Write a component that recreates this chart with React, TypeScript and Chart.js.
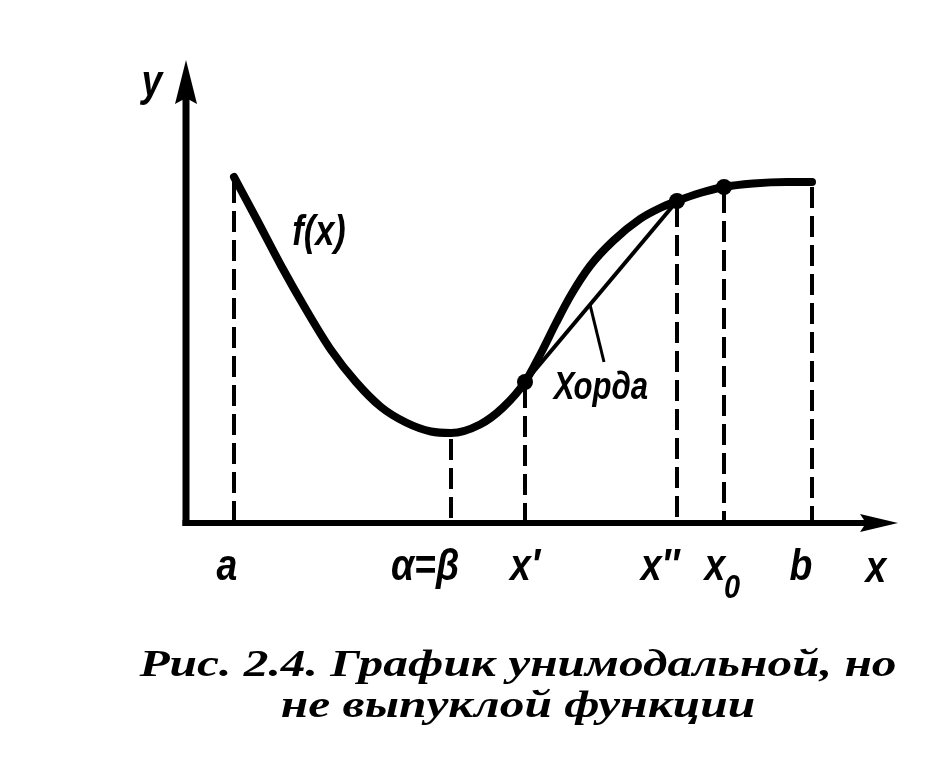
import React, { useEffect, useRef } from "react";
import { Chart, registerables } from "chart.js";

Chart.register(...registerables);

// Curve f(x) (abstract units)
const curveX = [0.96, 1.40, 1.90, 2.40, 2.90, 3.40, 3.90, 4.40, 4.90, 5.30, 5.88, 6.34, 6.78, 7.10, 7.40, 7.70, 8.08, 8.54, 9.08, 9.48, 9.82, 10.28, 10.76, 11.34, 12.02, 12.52];
const curveY = [6.92, 6.10, 5.15, 4.27, 3.46, 2.82, 2.32, 2.01, 1.83, 1.80, 1.97, 2.31, 2.82, 3.40, 4.00, 4.56, 5.14, 5.64, 6.08, 6.30, 6.44, 6.60, 6.72, 6.79, 6.82, 6.82];

// Marked abscissae: a, α=β, x', x'', x0, b
const guideX = [0.96, 5.30, 6.78, 9.82, 10.76, 12.52];
const tickLabels = ["a", "α=β", "x′", "x″", "x", "b"];
const tickSub = ["", "", "", "", "0", ""];

// Points shown as dots: x', x'', x0
const dotX = [6.78, 9.82, 10.76];
// Chord endpoints: x', x''
const chordX = [6.78, 9.82];

const axisMaxX = 14.24;
const axisMaxY = 9.26;

const captionLines = ["Рис. 2.4. График унимодальной, но", "не выпуклой функции"];

const yAt = (x: number) => curveY[curveX.indexOf(x)];

const LABEL_FONT = "'Liberation Sans', 'DejaVu Sans', sans-serif";

function drawLabel(ctx: CanvasRenderingContext2D, text: string, cx: number, base: number, size: number, sx: number) {
  ctx.save();
  ctx.font = `italic bold ${size}px ${LABEL_FONT}`;
  ctx.textAlign = "center";
  ctx.textBaseline = "alphabetic";
  ctx.translate(cx, base);
  ctx.scale(sx, 1);
  ctx.fillText(text, 0, 0);
  ctx.restore();
}

const axesPlugin = {
  id: "axesArrows",
  beforeDatasetsDraw(chart: any) {
    const { ctx, scales } = chart;
    const xs = scales.x, ys = scales.y;
    const ox = xs.getPixelForValue(0);
    const oy = ys.getPixelForValue(0);
    const xTip = xs.getPixelForValue(axisMaxX);
    const yTip = ys.getPixelForValue(axisMaxY);
    ctx.save();
    ctx.strokeStyle = "#000";
    ctx.fillStyle = "#000";
    ctx.lineCap = "butt";
    // y axis
    ctx.lineWidth = 7;
    ctx.beginPath();
    ctx.moveTo(ox, oy + 3);
    ctx.lineTo(ox, yTip + 30);
    ctx.stroke();
    ctx.beginPath();
    ctx.moveTo(ox, yTip);
    ctx.lineTo(ox - 11, yTip + 44);
    ctx.lineTo(ox, yTip + 38);
    ctx.lineTo(ox + 11, yTip + 44);
    ctx.closePath();
    ctx.fill();
    // x axis
    ctx.lineWidth = 6;
    ctx.beginPath();
    ctx.moveTo(ox - 3.5, oy);
    ctx.lineTo(xTip - 25, oy);
    ctx.stroke();
    ctx.beginPath();
    ctx.moveTo(xTip, oy);
    ctx.lineTo(xTip - 38, oy - 9);
    ctx.lineTo(xTip - 32, oy);
    ctx.lineTo(xTip - 38, oy + 9);
    ctx.closePath();
    ctx.fill();
    ctx.restore();
  },
};

// label offsets relative to guide lines (pixels)
const tickLabelDx = [-7, -26, 0, -17, -9, -11];

const labelsPlugin = {
  id: "figureLabels",
  afterDatasetsDraw(chart: any) {
    const { ctx, scales } = chart;
    const xs = scales.x, ys = scales.y;
    const oy = ys.getPixelForValue(0);
    ctx.save();
    ctx.fillStyle = "#000";
    const base = oy + 57;
    tickLabels.forEach((t, i) => {
      const cx = xs.getPixelForValue(guideX[i]) + tickLabelDx[i];
      drawLabel(ctx, t, cx, base, 44, 0.85);
      if (tickSub[i]) {
        drawLabel(ctx, tickSub[i], cx + 17, base + 18, 34, 0.85);
      }
    });
    // axis names
    drawLabel(ctx, "x", xs.getPixelForValue(axisMaxX) - 22, base + 2, 44, 0.85);
    drawLabel(ctx, "y", xs.getPixelForValue(0) - 34, ys.getPixelForValue(axisMaxY) + 36, 44, 0.85);
    // f(x)
    drawLabel(ctx, "f(x)", xs.getPixelForValue(2.66), ys.getPixelForValue(5.56), 42, 0.82);
    // chord label
    drawLabel(ctx, "Хорда", xs.getPixelForValue(8.3), ys.getPixelForValue(2.48), 39, 0.8);
    ctx.restore();
  },
};

export default function App() {
  const ref = useRef<HTMLCanvasElement | null>(null);

  useEffect(() => {
    if (!ref.current) return;
    const curve = curveX.map((x, i) => ({ x, y: curveY[i] }));
    const chord = chordX.map((x) => ({ x, y: yAt(x) }));
    const dots = dotX.map((x) => ({ x, y: yAt(x) }));
    // leader from the chord to the label
    const cA = chord[0], cB = chord[1];
    const leadX = 8.08;
    const leadY = cA.y + ((leadX - cA.x) * (cB.y - cA.y)) / (cB.x - cA.x);
    const leader = [
      { x: leadX, y: leadY },
      { x: 8.36, y: 3.22 },
    ];

    const guides = guideX.map((gx, i) => ({
      type: "line" as const,
      data: [
        { x: gx, y: yAt(gx) - (i === 1 ? 0.12 : 0.1) },
        { x: gx, y: 0 },
      ],
      borderColor: "#000",
      borderWidth: 4,
      borderDash: [21, 8],
      pointRadius: 0,
      clip: false as any,
      tension: 0,
    }));

    const chart = new Chart(ref.current, {
      type: "line",
      data: {
        datasets: [
          ...guides,
          {
            data: chord,
            borderColor: "#000",
            borderWidth: 4,
            pointRadius: 0,
            clip: false as any,
            tension: 0,
          },
          {
            data: leader,
            borderColor: "#000",
            borderWidth: 3,
            pointRadius: 0,
            clip: false as any,
            tension: 0,
          },
          {
            data: curve,
            borderColor: "#000",
            borderWidth: 8,
            pointRadius: 0,
            cubicInterpolationMode: "monotone",
            borderCapStyle: "round",
            borderJoinStyle: "round",
            clip: false as any,
          },
          {
            data: dots,
            showLine: false,
            pointRadius: 8,
            pointBackgroundColor: "#000",
            pointBorderColor: "#000",
            pointBorderWidth: 0,
            clip: false as any,
          },
        ] as any,
      },
      options: {
        animation: false,
        responsive: false,
        maintainAspectRatio: false,
        events: [],
        layout: { padding: { left: 186, right: 34, top: 60, bottom: 245 } },
        plugins: { legend: { display: false }, title: { display: false }, tooltip: { enabled: false } },
        scales: {
          x: { type: "linear", min: 0, max: axisMaxX, display: false },
          y: { type: "linear", min: 0, max: axisMaxY, display: false },
        },
      },
      plugins: [axesPlugin, labelsPlugin],
    });
    return () => chart.destroy();
  }, []);

  return (
    <div style={{ position: "fixed", left: 0, top: 0, width: 932, height: 768, background: "#fff" }}>
      <canvas ref={ref} width={932} height={768} style={{ position: "absolute", left: 0, top: 0, width: 932, height: 768 }} />
      <div
        style={{
          position: "absolute",
          left: 68,
          top: 643,
          width: 900,
          textAlign: "center",
          fontFamily: "'Liberation Serif', 'DejaVu Serif', serif",
          fontStyle: "italic",
          fontWeight: "bold",
          fontSize: 38,
          lineHeight: "41px",
          color: "#000",
          transform: "scaleX(1.3)",
          transformOrigin: "450px 0",
          whiteSpace: "nowrap",
        }}
      >
        {captionLines.map((l, i) => (
          <div key={i}>{l}</div>
        ))}
      </div>
    </div>
  );
}
